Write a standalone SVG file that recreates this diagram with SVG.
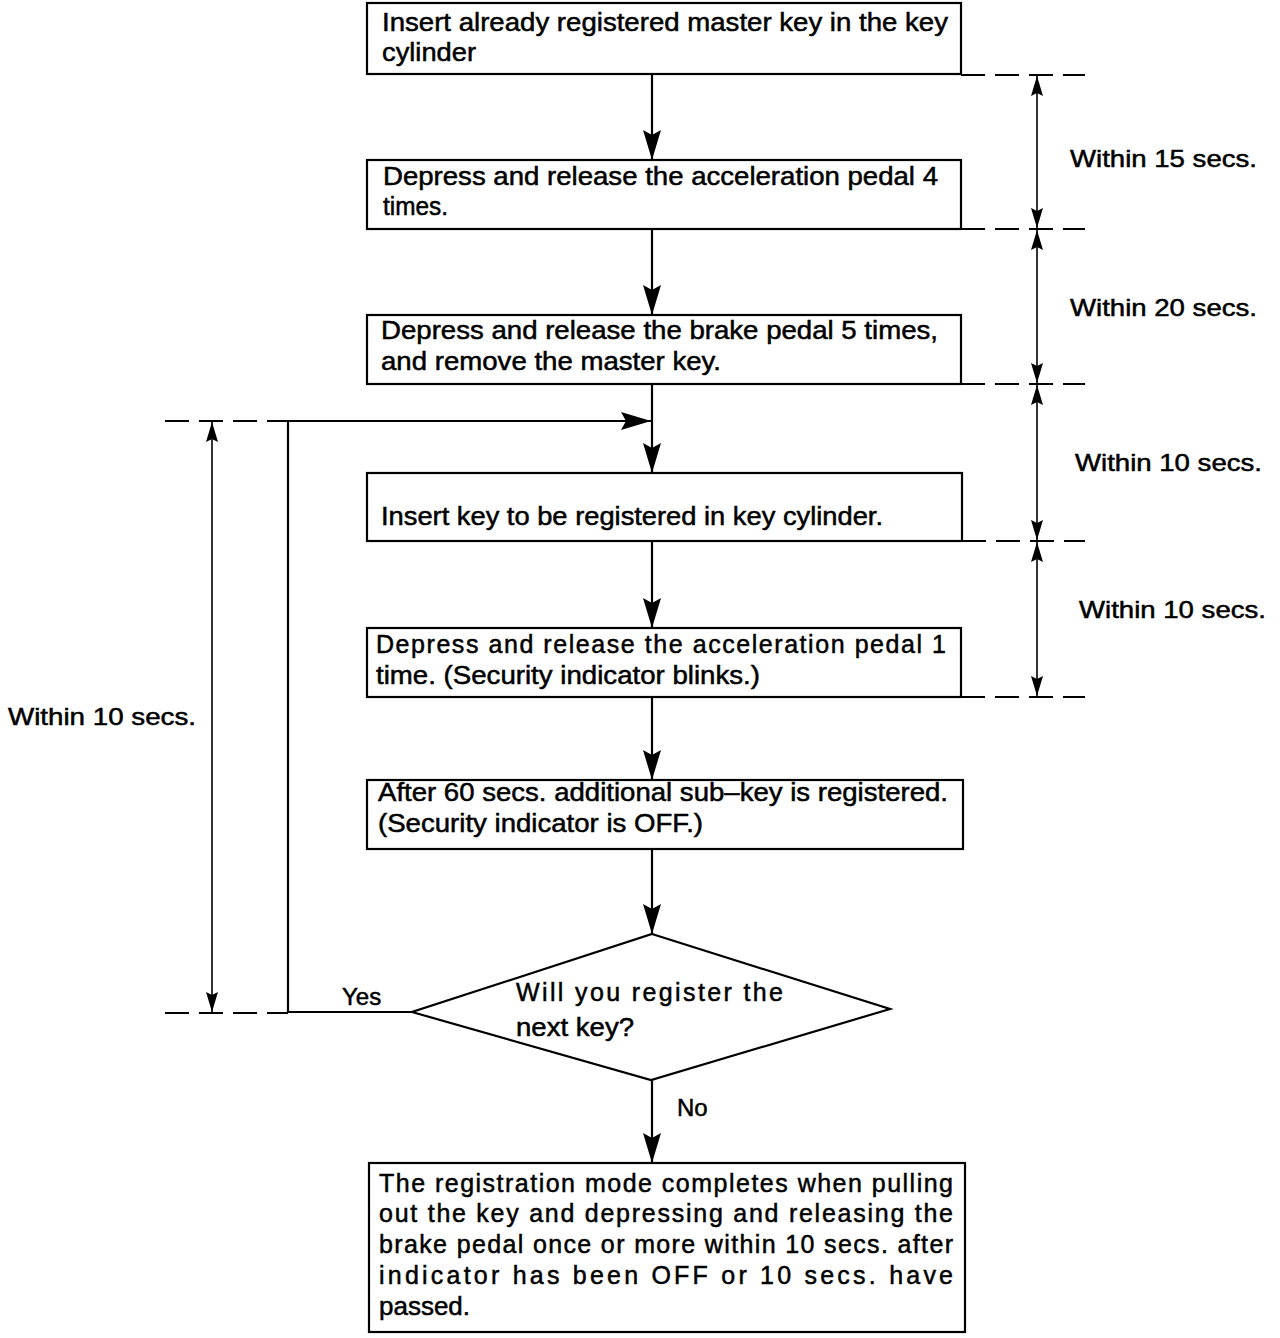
<svg xmlns="http://www.w3.org/2000/svg" width="1280" height="1338" viewBox="0 0 1280 1338">
<style>
.box{fill:#fff;stroke:#000;stroke-width:2.2}
.t{font-family:"Liberation Sans",Arial,Helvetica,sans-serif;font-size:25px;fill:#000;stroke:#000;stroke-width:0.5}
.l{font-family:"Liberation Sans",Arial,Helvetica,sans-serif;font-size:24px;fill:#000;stroke:#000;stroke-width:0.5}
.flow{stroke:#000;stroke-width:2.2;fill:none}
.dash{stroke:#000;stroke-width:2;stroke-dasharray:24 10;fill:none}
.dim{stroke:#000;stroke-width:1.6;fill:none}
</style>
<defs>
<marker id="ah" markerUnits="userSpaceOnUse" markerWidth="32" markerHeight="20" refX="30" refY="9" orient="auto">
<path d="M0,0 L30,9 L0,18 L5,9 z" fill="#000"/>
</marker>
<marker id="dh" markerUnits="userSpaceOnUse" markerWidth="22" markerHeight="12" refX="20" refY="6" orient="auto-start-reverse">
<path d="M0,0 L20,6 L0,12 L3,6 z" fill="#000"/>
</marker>
</defs>

<g id="connectors">
<line class="flow" x1="652" y1="74" x2="652" y2="160" marker-end="url(#ah)"/>
<line class="flow" x1="652" y1="229" x2="652" y2="315" marker-end="url(#ah)"/>
<line class="flow" x1="652" y1="384" x2="652" y2="473" marker-end="url(#ah)"/>
<line class="flow" x1="652" y1="541" x2="652" y2="628" marker-end="url(#ah)"/>
<line class="flow" x1="652" y1="697" x2="652" y2="780" marker-end="url(#ah)"/>
<line class="flow" x1="652" y1="849" x2="652" y2="934" marker-end="url(#ah)"/>
<line class="flow" x1="652" y1="1080" x2="652" y2="1163" marker-end="url(#ah)"/>
<polyline class="flow" points="412,1012 288,1012 288,421 651,421" marker-end="url(#ah)"/>
<text class="l" x="342" y="1005">Yes</text>
<text class="l" x="677" y="1116">No</text>
</g>

<g id="dimensions">
<line class="dash" x1="961" y1="75" x2="1085" y2="75"/>
<line class="dash" x1="961" y1="229" x2="1085" y2="229"/>
<line class="dash" x1="961" y1="384" x2="1085" y2="384"/>
<line class="dash" x1="962" y1="541" x2="1085" y2="541"/>
<line class="dash" x1="961" y1="697" x2="1085" y2="697"/>
<line class="dash" x1="165" y1="421" x2="288" y2="421"/>
<line class="dash" x1="165" y1="1013" x2="288" y2="1013"/>
<line class="dim" x1="1037" y1="76" x2="1037" y2="228" marker-start="url(#dh)" marker-end="url(#dh)"/>
<line class="dim" x1="1037" y1="230" x2="1037" y2="383" marker-start="url(#dh)" marker-end="url(#dh)"/>
<line class="dim" x1="1037" y1="385" x2="1037" y2="540" marker-start="url(#dh)" marker-end="url(#dh)"/>
<line class="dim" x1="1037" y1="542" x2="1037" y2="696" marker-start="url(#dh)" marker-end="url(#dh)"/>
<line class="dim" x1="212" y1="422" x2="212" y2="1012" marker-start="url(#dh)" marker-end="url(#dh)"/>
<text class="l" x="1070" y="167" textLength="187" lengthAdjust="spacingAndGlyphs">Within 15 secs.</text>
<text class="l" x="1070" y="316" textLength="187" lengthAdjust="spacingAndGlyphs">Within 20 secs.</text>
<text class="l" x="1075" y="471" textLength="187" lengthAdjust="spacingAndGlyphs">Within 10 secs.</text>
<text class="l" x="1079" y="618" textLength="187" lengthAdjust="spacingAndGlyphs">Within 10 secs.</text>
<text class="l" x="8" y="725" textLength="188" lengthAdjust="spacingAndGlyphs">Within 10 secs.</text>
</g>

<g id="node1">
<rect class="box" x="367" y="3" width="594" height="71"/>
<text class="t" x="382" y="31" textLength="566" lengthAdjust="spacingAndGlyphs">Insert already registered master key in the key</text>
<text class="t" x="382" y="61" textLength="94" lengthAdjust="spacingAndGlyphs">cylinder</text>
</g>
<g id="node2">
<rect class="box" x="367" y="160" width="594" height="69"/>
<text class="t" x="383" y="185" textLength="555" lengthAdjust="spacingAndGlyphs">Depress and release the acceleration pedal 4</text>
<text class="t" x="383" y="215" textLength="65" lengthAdjust="spacingAndGlyphs">times.</text>
</g>
<g id="node3">
<rect class="box" x="367" y="315" width="594" height="69"/>
<text class="t" x="381" y="339" textLength="557" lengthAdjust="spacingAndGlyphs">Depress and release the brake pedal 5 times,</text>
<text class="t" x="381" y="370" textLength="340" lengthAdjust="spacingAndGlyphs">and remove the master key.</text>
</g>
<g id="node4">
<rect class="box" x="367" y="473" width="595" height="68"/>
<text class="t" x="381" y="525" textLength="502" lengthAdjust="spacingAndGlyphs">Insert key to be registered in key cylinder.</text>
</g>
<g id="node5">
<rect class="box" x="367" y="628" width="594" height="69"/>
<text class="t" x="376" y="653" textLength="570" lengthAdjust="spacing">Depress and release the acceleration pedal 1</text>
<text class="t" x="376" y="684" textLength="384" lengthAdjust="spacingAndGlyphs">time. (Security indicator blinks.)</text>
</g>
<g id="node6">
<rect class="box" x="367" y="780" width="596" height="69"/>
<text class="t" x="378" y="801" textLength="570" lengthAdjust="spacingAndGlyphs">After 60 secs. additional sub–key is registered.</text>
<text class="t" x="378" y="832" textLength="325" lengthAdjust="spacingAndGlyphs">(Security indicator is OFF.)</text>
</g>
<g id="decision">
<polygon class="box" points="652,934 890,1009 651,1080 412,1012"/>
<text class="t" x="516" y="1001" textLength="267" lengthAdjust="spacing">Will you register the</text>
<text class="t" x="516" y="1036" textLength="118" lengthAdjust="spacingAndGlyphs">next key?</text>
</g>
<g id="node7">
<rect class="box" x="369" y="1163" width="596" height="169"/>
<text class="t" x="379" y="1192" textLength="574" lengthAdjust="spacing">The registration mode completes when pulling</text>
<text class="t" x="379" y="1222" textLength="574" lengthAdjust="spacing">out the key and depressing and releasing the</text>
<text class="t" x="379" y="1253" textLength="574" lengthAdjust="spacing">brake pedal once or more within 10 secs. after</text>
<text class="t" x="379" y="1284" textLength="574" lengthAdjust="spacing">indicator has been OFF or 10 secs. have</text>
<text class="t" x="379" y="1315" textLength="91" lengthAdjust="spacingAndGlyphs">passed.</text>
</g>
</svg>
